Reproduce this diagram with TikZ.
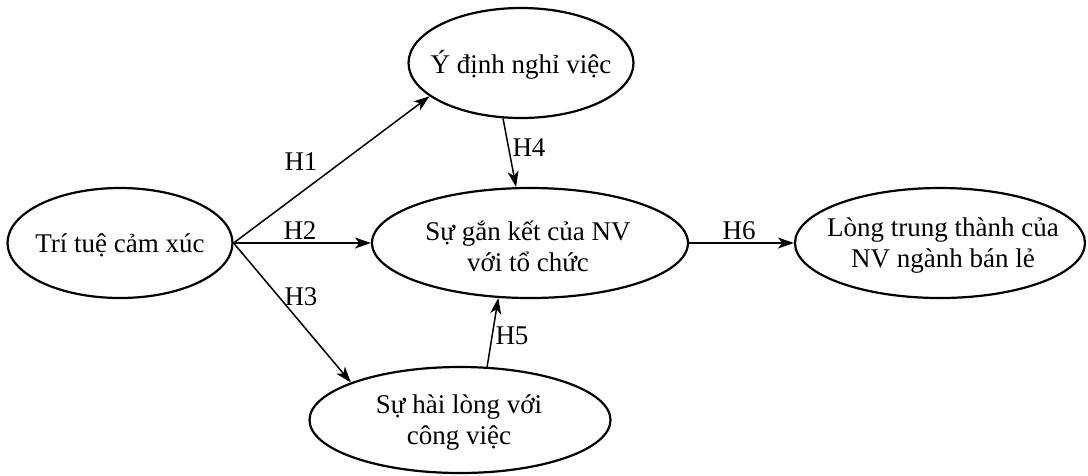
\documentclass[tikz,border=0pt]{standalone}
\usepackage{fontspec}
\setmainfont{Liberation Serif}
\usetikzlibrary{shapes.geometric,arrows.meta}
\begin{document}
\begin{tikzpicture}[x=1pt,y=-1pt,
  ell/.style={draw,ellipse,line width=2.2pt,inner sep=0pt},
  txt/.style={font=\fontsize{27}{31}\selectfont,align=center,inner sep=0pt},
  arr/.style={line width=1.5pt,-{Stealth[length=16pt,width=11pt,inset=4.5pt]}},
  hyp/.style={font=\fontsize{27}{31}\selectfont,inner sep=0pt}]
\fill[white] (0,0) rectangle (1088,475);
\useasboundingbox (0,0) rectangle (1088,475);
% ellipses
\node[ell,minimum width=225pt,minimum height=110pt] (e1) at (120,243) {};
\node[ell,minimum width=225pt,minimum height=110pt] (e2) at (521,63) {};
\node[ell,minimum width=316pt,minimum height=110pt] (e3) at (530,243) {};
\node[ell,minimum width=290pt,minimum height=110pt] (e4) at (940,243) {};
\node[ell,minimum width=301pt,minimum height=106pt] (e5) at (460,420) {};
% texts
\node[txt] (t1) at (120,245) {Trí tuệ cảm xúc};
\node[txt] (t2) at (521,65) {Ý định nghỉ việc};
\node[txt] (t3) at (528,246) {Sự gắn kết của NV\\với tổ chức};
\node[txt] (t4) at (943,246) {Lòng trung thành của\\NV ngành bán lẻ};
\node[txt] (t5) at (459,423) {Sự hài lòng với\\công việc};
% connectors
\draw[arr] (e1.east) -- (e2.200);
\draw[arr] (e1.east) -- (e3.west);
\draw[arr] (e1.east) -- (e5.161);
\draw[arr] (e2.252) -- (e3.104);
\draw[arr] (e5.63) -- (e3.240);
\draw[arr] (e3.east) -- (e4.west);
% hypothesis labels
\node[hyp] (h1) at (301,162) {H1};
\node[hyp] (h2) at (300,231) {H2};
\node[hyp] (h3) at (301,297) {H3};
\node[hyp] (h4) at (529,148) {H4};
\node[hyp] (h5) at (512,336) {H5};
\node[hyp] (h6) at (739,231) {H6};
\end{tikzpicture}
\end{document}
